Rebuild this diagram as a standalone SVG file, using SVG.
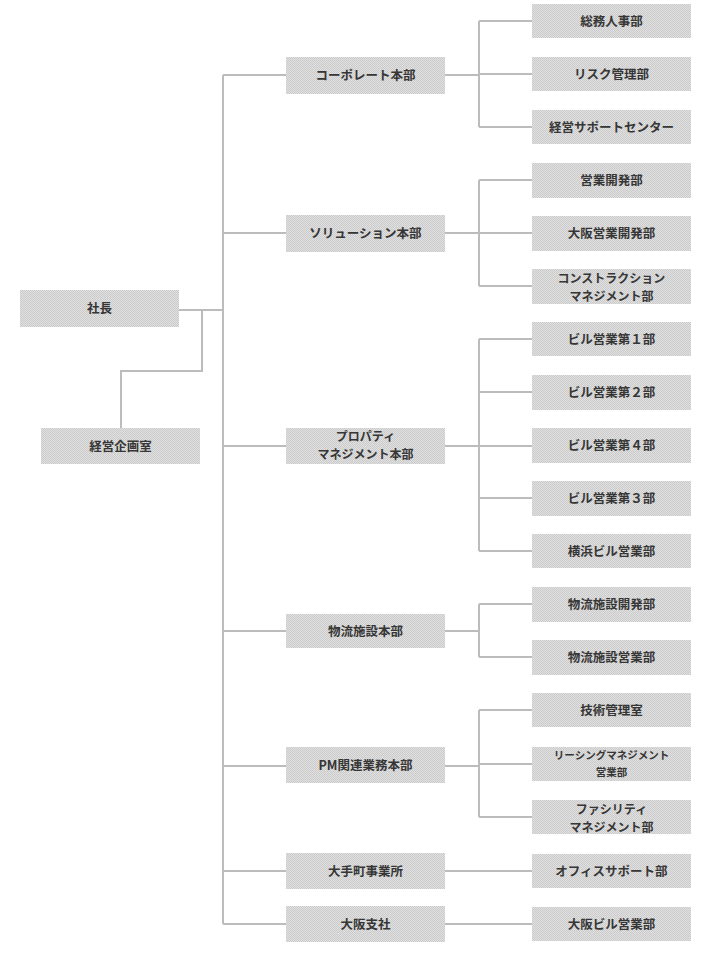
<svg xmlns="http://www.w3.org/2000/svg" width="720" height="960" viewBox="0 0 720 960">
<defs>
<pattern id="dither" width="2" height="2" patternUnits="userSpaceOnUse">
<rect width="2" height="2" fill="#e0e0e0"/>
<rect width="1" height="1" fill="#cbcbcb"/>
<rect x="1" y="1" width="1" height="1" fill="#cbcbcb"/>
</pattern>
<style>
.box{fill:url(#dither);}
.t{font-family:"Noto Sans CJK JP","Liberation Sans",sans-serif;font-size:12.5px;font-weight:bold;fill:#363636;text-anchor:middle;}
.m{font-size:12px;}
.s{font-size:10.5px;}
.c{stroke:#bcbcbc;stroke-width:2;fill:none;}
</style>
</defs>
<rect width="720" height="960" fill="#ffffff"/>
<g id="connectors">
<path class="c" d="M223,75 V924"/>
<path class="c" d="M223,75 H286 M223,233 H286 M223,446 H286 M223,631 H286 M223,766 H286 M223,871 H286 M223,924 H286"/>
<path class="c" d="M179,310 H223 M202,310 V371 H121 V428"/>
<path class="c" d="M445,75 H479 M479,21 V127 M479,21 H532 M479,74 H532 M479,127 H532"/>
<path class="c" d="M445,233 H479 M479,180 V286 M479,180 H532 M479,233 H532 M479,286 H532"/>
<path class="c" d="M445,446 H479 M479,339 V551 M479,339 H532 M479,392 H532 M479,446 H532 M479,498 H532 M479,551 H532"/>
<path class="c" d="M445,631 H479 M479,604 V657 M479,604 H532 M479,657 H532"/>
<path class="c" d="M445,766 H479 M479,710 V817 M479,710 H532 M479,764 H532 M479,817 H532"/>
<path class="c" d="M445,871 H532 M445,924 H532"/>
</g>
<g id="n-shacho"><rect class="box" x="20" y="290" width="159" height="37"/><text class="t" x="99.5" y="313">社長</text></g>
<g id="n-keiei-kikaku"><rect class="box" x="41" y="428" width="159" height="36"/><text class="t" x="120.5" y="451">経営企画室</text></g>
<g id="n-corporate"><rect class="box" x="286" y="57" width="159" height="37"/><text class="t" x="365.5" y="80">コーポレート本部</text></g>
<g id="n-solution"><rect class="box" x="286" y="215" width="159" height="37"/><text class="t" x="365.5" y="238">ソリューション本部</text></g>
<g id="n-property"><rect class="box" x="286" y="428" width="159" height="36"/><text class="t m" x="365.5" y="440.5">プロパティ</text><text class="t m" x="365.5" y="458.5">マネジメント本部</text></g>
<g id="n-butsuryu"><rect class="box" x="286" y="614" width="159" height="34"/><text class="t" x="365.5" y="635.5">物流施設本部</text></g>
<g id="n-pm"><rect class="box" x="286" y="747" width="159" height="36"/><text class="t" x="365.5" y="769.5">PM関連業務本部</text></g>
<g id="n-otemachi"><rect class="box" x="286" y="853" width="159" height="36"/><text class="t" x="365.5" y="875.5">大手町事業所</text></g>
<g id="n-osaka-shisha"><rect class="box" x="286" y="906" width="159" height="36"/><text class="t" x="365.5" y="928.5">大阪支社</text></g>
<g id="n-somu"><rect class="box" x="532" y="4" width="159" height="34"/><text class="t" x="611.5" y="25.5">総務人事部</text></g>
<g id="n-risk"><rect class="box" x="532" y="57" width="159" height="34"/><text class="t" x="611.5" y="78.5">リスク管理部</text></g>
<g id="n-keiei-support"><rect class="box" x="532" y="110" width="159" height="34"/><text class="t" x="611.5" y="131.5">経営サポートセンター</text></g>
<g id="n-eigyo-kaihatsu"><rect class="box" x="532" y="163" width="159" height="35"/><text class="t" x="611.5" y="185">営業開発部</text></g>
<g id="n-osaka-eigyo-kaihatsu"><rect class="box" x="532" y="216" width="159" height="35"/><text class="t" x="611.5" y="238">大阪営業開発部</text></g>
<g id="n-construction"><rect class="box" x="532" y="269" width="159" height="35"/><text class="t m" x="611.5" y="282.5">コンストラクション</text><text class="t m" x="611.5" y="300.5">マネジメント部</text></g>
<g id="n-bldg1"><rect class="box" x="532" y="322" width="159" height="34"/><text class="t" x="611.5" y="343.5">ビル営業第１部</text></g>
<g id="n-bldg2"><rect class="box" x="532" y="375" width="159" height="35"/><text class="t" x="611.5" y="397">ビル営業第２部</text></g>
<g id="n-bldg4"><rect class="box" x="532" y="428" width="159" height="35"/><text class="t" x="611.5" y="450">ビル営業第４部</text></g>
<g id="n-bldg3"><rect class="box" x="532" y="481" width="159" height="35"/><text class="t" x="611.5" y="503">ビル営業第３部</text></g>
<g id="n-yokohama"><rect class="box" x="532" y="534" width="159" height="34"/><text class="t" x="611.5" y="555.5">横浜ビル営業部</text></g>
<g id="n-butsuryu-kaihatsu"><rect class="box" x="532" y="587" width="159" height="35"/><text class="t" x="611.5" y="609">物流施設開発部</text></g>
<g id="n-butsuryu-eigyo"><rect class="box" x="532" y="640" width="159" height="35"/><text class="t" x="611.5" y="662">物流施設営業部</text></g>
<g id="n-gijutsu"><rect class="box" x="532" y="693" width="159" height="34"/><text class="t" x="611.5" y="714.5">技術管理室</text></g>
<g id="n-leasing"><rect class="box" x="532" y="747" width="159" height="34"/><text class="t s" x="611.5" y="758.5">リーシングマネジメント</text><text class="t s" x="611.5" y="776">営業部</text></g>
<g id="n-facility"><rect class="box" x="532" y="800" width="159" height="34"/><text class="t m" x="611.5" y="814">ファシリティ</text><text class="t m" x="611.5" y="831.5">マネジメント部</text></g>
<g id="n-office-support"><rect class="box" x="532" y="854" width="159" height="34"/><text class="t" x="611.5" y="875.5">オフィスサポート部</text></g>
<g id="n-osaka-bldg"><rect class="box" x="532" y="907" width="159" height="34"/><text class="t" x="611.5" y="928.5">大阪ビル営業部</text></g>
</svg>
